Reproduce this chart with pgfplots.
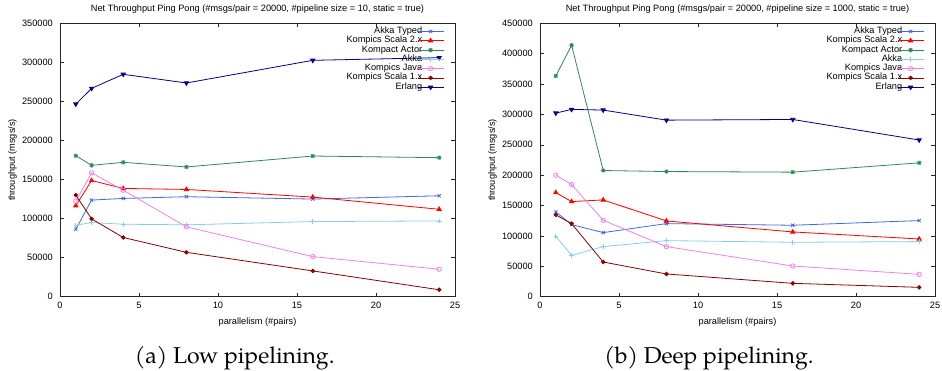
\documentclass[border=0pt]{standalone}
\usepackage{pgfplots}
\pgfplotsset{compat=1.18}
\usepackage{pgfplotstable}
\usepackage{fontspec}
\setmainfont{Liberation Sans}
\newfontfamily\capfont{TeX Gyre Pagella}

\definecolor{cAT}{HTML}{4169E1}
\definecolor{cS2}{HTML}{FF0000}
\definecolor{cKA}{HTML}{2E8B57}
\definecolor{cAK}{HTML}{87CEEB}
\definecolor{cKJ}{HTML}{EE82EE}
\definecolor{cS1}{HTML}{8B0000}
\definecolor{cER}{HTML}{00008B}

\pgfdeclareplotmark{plusx}{%
 \pgfpathmoveto{\pgfqpoint{-\pgfplotmarksize}{0pt}}\pgfpathlineto{\pgfqpoint{\pgfplotmarksize}{0pt}}%
 \pgfpathmoveto{\pgfqpoint{0pt}{-\pgfplotmarksize}}\pgfpathlineto{\pgfqpoint{0pt}{\pgfplotmarksize}}%
 \pgfpathmoveto{\pgfqpoint{-.75\pgfplotmarksize}{-.75\pgfplotmarksize}}\pgfpathlineto{\pgfqpoint{.75\pgfplotmarksize}{.75\pgfplotmarksize}}%
 \pgfpathmoveto{\pgfqpoint{-.75\pgfplotmarksize}{.75\pgfplotmarksize}}\pgfpathlineto{\pgfqpoint{.75\pgfplotmarksize}{-.75\pgfplotmarksize}}%
 \pgfusepathqstroke}

\pgfplotstableread{
x akkatyped scala2 kompact akka java scala1 erlang
1  86400 116500 180500 91500 122500 130100 246600
2  123700 148700 168200 94900 158500 99600 266700
4  125800 138600 172000 92800 136400 75800 284700
8  128000 137300 166100 92000 89400 56800 273600
16 125000 127500 180100 96200 51300 33000 302600
24 129200 111900 178000 97000 35200 8900 306000
}\lowtab

\pgfplotstableread{
x akkatyped scala2 kompact akka java scala1 erlang
1  139600 171400 363300 99500 200000 134600 302200
2  118700 156600 413800 68100 184600 120300 308300
4  105500 159300 207700 82400 125800 57100 307200
8  120300 124700 206000 92300 82400 37400 290600
16 117600 106600 205000 89600 50500 22000 291700
24 125300 95000 220300 90700 36800 15400 257900
}\deeptab

\newcommand{\chartfont}{\fontsize{9.2}{9.2}\selectfont}

\pgfplotsset{
 myax/.style={
  scale only axis, width=395pt, height=273.4pt, anchor=south west,
  xmin=0, xmax=25, ymin=0, xtick={0,5,...,25},
  tick align=inside, major tick length=4pt,
  axis line style={line width=0.9pt, black!85},
  every tick/.style={black!85, line width=0.6pt},
  tick label style={font=\chartfont},
  /pgf/number format/fixed,
  /pgf/number format/precision=0,
  /pgf/number format/assume math mode=true,
  /pgf/number format/1000 sep={},
  scaled y ticks=false, scaled x ticks=false,
  yticklabel style={inner sep=0pt, xshift=-7pt},
  xticklabel style={inner sep=0pt, yshift=-5.5pt},
  every axis title shift=0pt,
  title style={at={(0.5,1.0501)}, anchor=center, font=\chartfont, inner sep=0pt},
  xlabel={parallelism (\#pairs)},
  xlabel style={at={(0.5,0)}, anchor=center, yshift=-25.3pt, inner sep=0pt, font=\chartfont},
  ylabel={throughput (msgs/s)},
  every axis y label/.style={at={(-0.12025,0.5)}, rotate=90, anchor=center, inner sep=0pt, font=\chartfont},
  legend style={at={(1,1)}, anchor=north east, xshift=-11pt, yshift=-3.5pt,
    draw=none, fill=none, inner sep=0pt, outer sep=0pt, row sep=0pt, column sep=-5pt,
    font=\chartfont, nodes={inner sep=0pt, outer sep=0pt, text height=6.6pt, text depth=2.7pt}},
  legend cell align=right, legend plot pos=right,
  legend image code/.code={\draw[mark repeat=2,mark phase=2,#1] plot coordinates {(0pt,0pt)(13pt,0pt)(26pt,0pt)};},
  every axis plot/.append style={line width=0.8pt},
 },
 sAT/.style={cAT, mark=x, mark size=2.3pt},
 sS2/.style={cS2, mark=triangle*, mark size=2.4pt},
 sKA/.style={cKA, mark=plusx, mark size=2.2pt},
 sAK/.style={cAK, mark=+, mark size=2.3pt},
 sKJ/.style={cKJ, mark=o, mark size=2.2pt},
 sS1/.style={cS1, mark=*, mark size=1.8pt},
 sER/.style={cER, mark=triangle*, mark size=2.4pt, mark options={rotate=180}},
}

\begin{document}
\begin{tikzpicture}
\useasboundingbox (0pt,0pt) rectangle (942pt,-371pt);

\begin{axis}[myax, at={(60pt,-296.7pt)}, ymax=350000, ytick={0,50000,...,350000},
  title={Net Throughput Ping Pong (\#msgs/pair = 20000, \#pipeline size = 10, static = true)}]
\addplot[sAT] table[x=x,y=akkatyped] {\lowtab}; \addlegendentry{Akka Typed}
\addplot[sS2] table[x=x,y=scala2] {\lowtab}; \addlegendentry{Kompics Scala 2.x}
\addplot[sKA] table[x=x,y=kompact] {\lowtab}; \addlegendentry{Kompact Actor}
\addplot[sAK] table[x=x,y=akka] {\lowtab}; \addlegendentry{Akka}
\addplot[sKJ] table[x=x,y=java] {\lowtab}; \addlegendentry{Kompics Java}
\addplot[sS1] table[x=x,y=scala1] {\lowtab}; \addlegendentry{Kompics Scala 1.x}
\addplot[sER] table[x=x,y=erlang] {\lowtab}; \addlegendentry{Erlang}
\end{axis}

\begin{axis}[myax, at={(540pt,-296.7pt)}, ymax=450000, ytick={0,50000,...,450000},
  title={Net Throughput Ping Pong (\#msgs/pair = 20000, \#pipeline size = 1000, static = true)}]
\addplot[sAT] table[x=x,y=akkatyped] {\deeptab}; \addlegendentry{Akka Typed}
\addplot[sS2] table[x=x,y=scala2] {\deeptab}; \addlegendentry{Kompics Scala 2.x}
\addplot[sKA] table[x=x,y=kompact] {\deeptab}; \addlegendentry{Kompact Actor}
\addplot[sAK] table[x=x,y=akka] {\deeptab}; \addlegendentry{Akka}
\addplot[sKJ] table[x=x,y=java] {\deeptab}; \addlegendentry{Kompics Java}
\addplot[sS1] table[x=x,y=scala1] {\deeptab}; \addlegendentry{Kompics Scala 1.x}
\addplot[sER] table[x=x,y=erlang] {\deeptab}; \addlegendentry{Erlang}
\end{axis}

\node[anchor=base, inner sep=0pt, font=\capfont\fontsize{23}{23}\selectfont] at (234.7pt,-363pt) {(a) Low pipelining.};
\node[anchor=base, inner sep=0pt, font=\capfont\fontsize{23}{23}\selectfont] at (709pt,-363pt) {(b) Deep pipelining.};
\end{tikzpicture}
\end{document}
